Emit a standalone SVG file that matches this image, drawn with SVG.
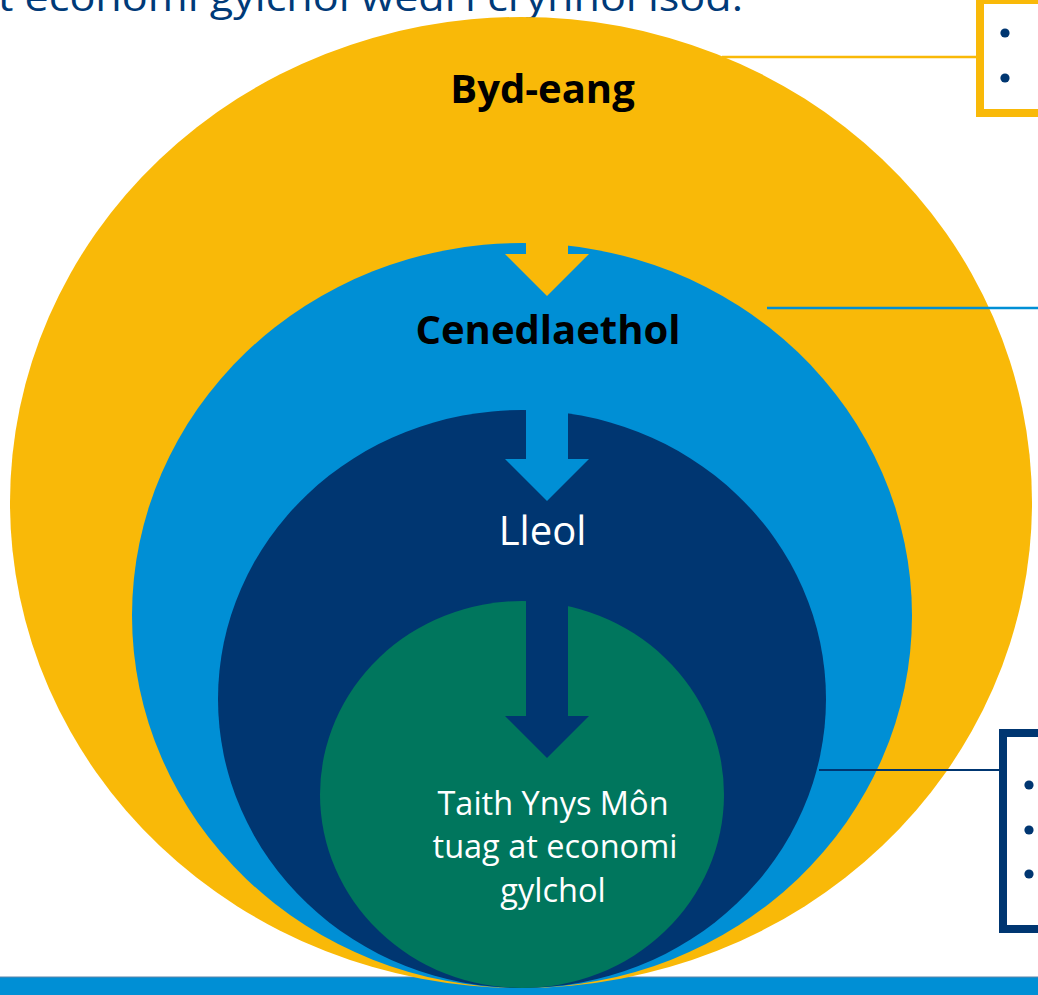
<svg xmlns="http://www.w3.org/2000/svg" width="1038" height="995" viewBox="0 0 1038 995">
<style>
.yel{fill:#F9B908}
.lb{fill:#008FD5}
.nv{fill:#003671}
.gr{fill:#00765D}
.lbl{font-family:"Open Sans","Liberation Sans",sans-serif;text-anchor:middle}
.b{font-weight:bold;font-size:40px;fill:#000}
.dot{fill:#003671}
</style>
<rect width="1038" height="995" fill="#ffffff"/>
<text x="-2" y="11" font-family="Open Sans, Liberation Sans, sans-serif" font-size="38" fill="#003A78" textLength="745" lengthAdjust="spacingAndGlyphs">t economi gylchol wedi'i crynhoi isod.</text>
<g id="bar">
<rect x="0" y="977" width="1038" height="18" fill="#008FD5"/>
<line x1="0" y1="977" x2="1038" y2="977" stroke="#5E86AA" stroke-width="1.2"/>
</g>
<g id="global">
<ellipse class="yel" cx="521" cy="502.5" rx="511" ry="485.5"/>
<text class="lbl b" x="542.5" y="103">Byd-eang</text>
</g>
<g id="national">
<ellipse class="lb" cx="522" cy="615.5" rx="390" ry="372.5"/>
<polygon class="yel" points="526,236 568,236 568,254 589,254 547,296 505,254 526,254"/>
<text class="lbl b" x="548" y="344">Cenedlaethol</text>
</g>
<g id="local">
<ellipse class="nv" cx="522" cy="699" rx="304" ry="289"/>
<polygon class="lb" points="526,405 568,405 568,459 589,459 547,501 505,459 526,459"/>
<text class="lbl" x="542.5" y="545" font-size="40" fill="#ffffff">Lleol</text>
</g>
<g id="journey">
<ellipse class="gr" cx="522" cy="794.5" rx="202" ry="193.5"/>
<polygon class="nv" points="526,595 568,595 568,716 589,716 547,758 505,716 526,716"/>
<text class="lbl" font-size="32.5" fill="#ffffff"><tspan x="553" y="815">Taith Ynys Môn</tspan><tspan x="555" y="858">tuag at economi</tspan><tspan x="553" y="902">gylchol</tspan></text>
</g>
<g id="connectors" fill="none">
<line x1="722" y1="57" x2="980" y2="57" stroke="#F9B908" stroke-width="2.6"/>
<line x1="767" y1="308" x2="1038" y2="308" stroke="#008FD5" stroke-width="2.6"/>
<line x1="819" y1="770" x2="1003" y2="770" stroke="#003671" stroke-width="2.2"/>
</g>
<g id="box-global">
<rect x="980" y="0" width="100" height="113" fill="#ffffff" stroke="#F9B908" stroke-width="8"/>
<circle class="dot" cx="1005" cy="33" r="4.6"/>
<circle class="dot" cx="1005" cy="78" r="4.6"/>
</g>
<g id="box-local">
<rect x="1003" y="733" width="100" height="196" fill="#ffffff" stroke="#003671" stroke-width="8"/>
<circle class="dot" cx="1029" cy="785" r="4.6"/>
<circle class="dot" cx="1029" cy="830" r="4.6"/>
<circle class="dot" cx="1029" cy="874" r="4.6"/>
</g>
</svg>
